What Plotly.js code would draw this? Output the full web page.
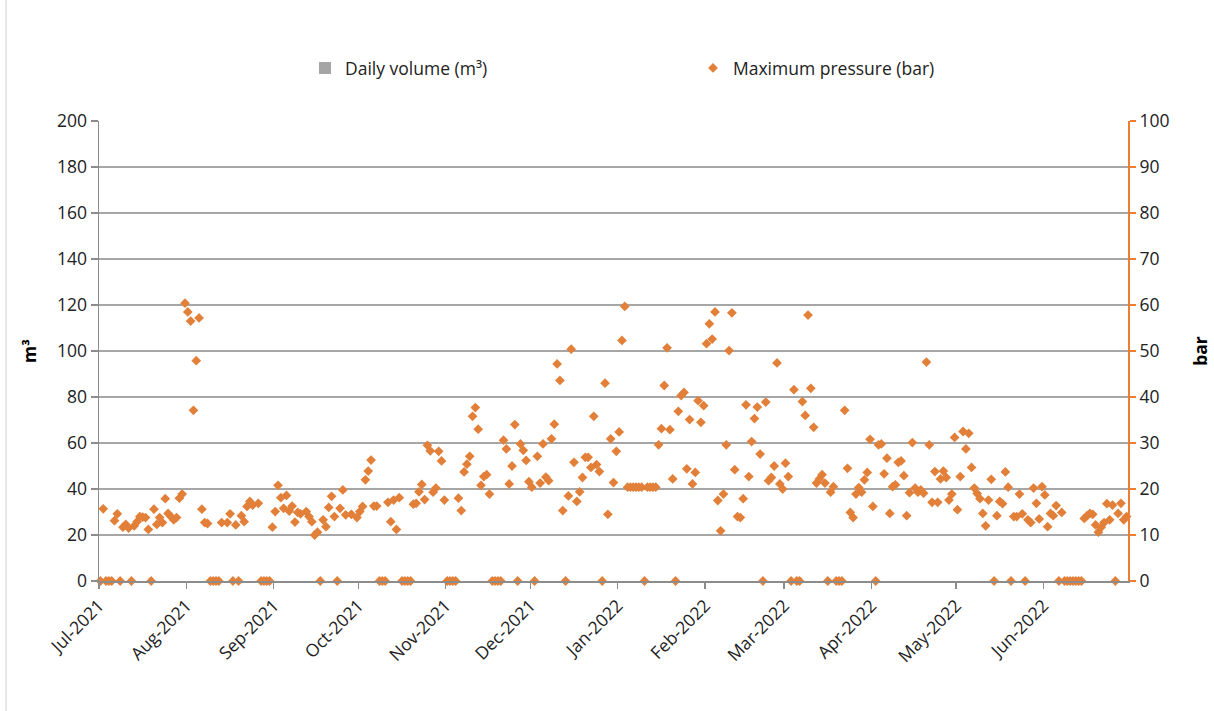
<!DOCTYPE html>
<html><head><meta charset="utf-8">
<script src="https://cdn.plot.ly/plotly-3.0.1.min.js"></script>
<style>html,body{margin:0;padding:0;background:#fff}#chart{width:1214px;height:711px}</style>
</head><body><div id="chart"></div>
<script>
// Daily maximum pressure (bar), one reading per day
const pressureDates = [
'2021-07-01','2021-07-02','2021-07-03','2021-07-04','2021-07-05','2021-07-06','2021-07-07','2021-07-08','2021-07-09','2021-07-10',
'2021-07-11','2021-07-12','2021-07-13','2021-07-14','2021-07-15','2021-07-16','2021-07-17','2021-07-18','2021-07-19','2021-07-20',
'2021-07-21','2021-07-22','2021-07-23','2021-07-24','2021-07-25','2021-07-26','2021-07-27','2021-07-28','2021-07-29','2021-07-30','2021-07-31',
'2021-08-01','2021-08-02','2021-08-03','2021-08-04','2021-08-05','2021-08-06','2021-08-07','2021-08-08','2021-08-09','2021-08-10',
'2021-08-11','2021-08-12','2021-08-13','2021-08-15','2021-08-16','2021-08-17','2021-08-18','2021-08-19','2021-08-20',
'2021-08-21','2021-08-22','2021-08-23','2021-08-24','2021-08-26','2021-08-27','2021-08-28','2021-08-29','2021-08-30','2021-08-31',
'2021-09-01','2021-09-02','2021-09-03','2021-09-04','2021-09-05','2021-09-06','2021-09-07','2021-09-08','2021-09-09','2021-09-10',
'2021-09-12','2021-09-13','2021-09-14','2021-09-15','2021-09-16','2021-09-17','2021-09-18','2021-09-19','2021-09-20',
'2021-09-21','2021-09-22','2021-09-23','2021-09-24','2021-09-25','2021-09-26','2021-09-28','2021-09-30',
'2021-10-01','2021-10-02','2021-10-03','2021-10-04','2021-10-05','2021-10-06','2021-10-07','2021-10-08','2021-10-09','2021-10-10',
'2021-10-11','2021-10-12','2021-10-13','2021-10-14','2021-10-15','2021-10-16','2021-10-17','2021-10-18','2021-10-19','2021-10-20',
'2021-10-21','2021-10-22','2021-10-23','2021-10-24','2021-10-25','2021-10-26','2021-10-27','2021-10-28','2021-10-29','2021-10-30','2021-10-31',
'2021-11-01','2021-11-02','2021-11-03','2021-11-04','2021-11-05','2021-11-06','2021-11-07','2021-11-08','2021-11-09','2021-11-10',
'2021-11-11','2021-11-12','2021-11-13','2021-11-14','2021-11-15','2021-11-16','2021-11-17','2021-11-18','2021-11-19','2021-11-20',
'2021-11-21','2021-11-22','2021-11-23','2021-11-24','2021-11-25','2021-11-26','2021-11-27','2021-11-28','2021-11-29','2021-11-30',
'2021-12-01','2021-12-02','2021-12-03','2021-12-04','2021-12-05','2021-12-06','2021-12-07','2021-12-08','2021-12-09','2021-12-10',
'2021-12-11','2021-12-12','2021-12-13','2021-12-14','2021-12-15','2021-12-16','2021-12-17','2021-12-18','2021-12-19','2021-12-20',
'2021-12-21','2021-12-22','2021-12-23','2021-12-24','2021-12-25','2021-12-26','2021-12-27','2021-12-28','2021-12-29','2021-12-30','2021-12-31',
'2022-01-01','2022-01-02','2022-01-03','2022-01-04','2022-01-05','2022-01-06','2022-01-07','2022-01-08','2022-01-09','2022-01-10',
'2022-01-11','2022-01-12','2022-01-13','2022-01-14','2022-01-15','2022-01-16','2022-01-17','2022-01-18','2022-01-19','2022-01-20',
'2022-01-21','2022-01-22','2022-01-23','2022-01-24','2022-01-25','2022-01-26','2022-01-27','2022-01-28','2022-01-29','2022-01-30','2022-01-31',
'2022-02-01','2022-02-02','2022-02-03','2022-02-04','2022-02-05','2022-02-06','2022-02-07','2022-02-08','2022-02-09','2022-02-10',
'2022-02-11','2022-02-12','2022-02-13','2022-02-14','2022-02-15','2022-02-16','2022-02-17','2022-02-18','2022-02-19','2022-02-20',
'2022-02-21','2022-02-22','2022-02-23','2022-02-24','2022-02-25','2022-02-26','2022-02-27','2022-02-28',
'2022-03-01','2022-03-02','2022-03-03','2022-03-04','2022-03-05','2022-03-06','2022-03-07','2022-03-08','2022-03-09','2022-03-10',
'2022-03-11','2022-03-12','2022-03-13','2022-03-14','2022-03-15','2022-03-16','2022-03-17','2022-03-18','2022-03-19','2022-03-20',
'2022-03-21','2022-03-22','2022-03-23','2022-03-24','2022-03-25','2022-03-26','2022-03-27','2022-03-28','2022-03-29','2022-03-30','2022-03-31',
'2022-04-01','2022-04-02','2022-04-03','2022-04-04','2022-04-05','2022-04-06','2022-04-07','2022-04-08','2022-04-09','2022-04-10',
'2022-04-11','2022-04-12','2022-04-13','2022-04-14','2022-04-15','2022-04-16','2022-04-17','2022-04-18','2022-04-19','2022-04-20',
'2022-04-21','2022-04-22','2022-04-23','2022-04-24','2022-04-25','2022-04-26','2022-04-27','2022-04-28','2022-04-29','2022-04-30',
'2022-05-01','2022-05-02','2022-05-03','2022-05-04','2022-05-05','2022-05-06','2022-05-07','2022-05-08','2022-05-09','2022-05-10',
'2022-05-11','2022-05-12','2022-05-13','2022-05-14','2022-05-15','2022-05-16','2022-05-17','2022-05-18','2022-05-19','2022-05-20',
'2022-05-21','2022-05-22','2022-05-23','2022-05-24','2022-05-25','2022-05-26','2022-05-27','2022-05-28','2022-05-29','2022-05-30','2022-05-31',
'2022-06-01','2022-06-02','2022-06-03','2022-06-04','2022-06-05','2022-06-06','2022-06-07','2022-06-08','2022-06-09','2022-06-10',
'2022-06-11','2022-06-12','2022-06-13','2022-06-14','2022-06-15','2022-06-16','2022-06-17','2022-06-18','2022-06-19','2022-06-20',
'2022-06-21','2022-06-22','2022-06-23','2022-06-24','2022-06-25','2022-06-26','2022-06-27','2022-06-28','2022-06-29','2022-06-30'
];
const pressureBar = [
0,15.7,0,0,0,13.1,14.6,0,11.7,12.3,
11.5,0,12.0,12.9,14.0,13.9,13.8,11.2,0,15.6,
12.3,13.8,12.7,17.9,14.7,14.0,13.3,13.8,18.0,18.9,60.4,
58.5,56.5,37.1,47.9,57.2,15.6,12.7,12.5,0,0,
0,0,12.7,12.7,14.6,0,12.2,0,14.2,
12.9,16.2,17.3,16.5,16.9,0,0,0,0,11.7,
15.1,20.8,18.1,15.8,18.6,15.2,16.3,12.8,14.9,14.6,
15.1,14.0,12.9,10.0,10.6,0,13.3,11.8,16.0,
18.4,14.0,0,15.8,19.8,14.4,14.5,13.8,
15.1,16.2,22.0,23.9,26.3,16.3,16.3,0,0,0,
17.1,12.9,17.6,11.2,18.1,0,0,0,0,16.7,
16.9,19.4,21.0,17.7,29.5,28.3,19.3,20.2,28.2,26.1,17.6,
0,0,0,0,18.0,15.3,23.7,25.4,27.1,35.8,
37.7,33.0,20.8,22.7,23.1,18.9,0,0,0,0,
30.6,28.7,21.1,25.0,34.0,0,29.8,28.4,26.2,21.6,
20.4,0,27.1,21.3,29.8,22.6,21.8,30.9,34.1,47.2,
43.6,15.3,0,18.5,50.4,25.8,17.3,19.4,22.5,26.9,
26.9,24.7,35.8,25.3,23.8,0,43.0,14.5,30.9,21.4,28.2,
32.4,52.3,59.7,20.4,20.4,20.4,20.4,20.4,20.4,0,
20.4,20.4,20.4,20.4,29.6,33.1,42.5,50.7,32.9,22.2,
0,36.9,40.3,41.0,24.4,35.1,21.1,23.6,39.2,34.5,38.1,
51.6,55.9,52.6,58.5,17.5,10.9,18.9,29.6,50.1,58.3,
24.2,14.0,13.8,17.9,38.3,22.7,30.3,35.3,37.8,27.6,
0,38.9,21.8,22.5,25.0,47.4,21.1,20.0,
25.6,22.7,0,41.6,0,0,39.0,36.0,57.8,41.9,
33.4,21.3,22.2,23.1,21.3,0,19.3,20.5,0,0,
0,37.1,24.5,14.9,13.8,18.9,20.3,19.3,22.0,23.6,30.8,
16.2,0,29.6,29.8,23.3,26.7,14.7,20.5,20.9,25.8,
26.1,22.9,14.2,19.2,30.1,20.2,19.3,19.8,19.1,47.6,
29.6,17.1,23.8,17.1,22.2,23.9,22.5,17.6,18.9,31.2,
15.5,22.7,32.5,28.7,32.1,24.7,20.2,19.0,17.9,14.7,
12.0,17.6,22.1,0,14.2,17.3,16.8,23.7,20.4,0,
14.0,14.0,18.9,14.6,0,13.3,12.7,20.2,16.9,13.5,20.5,
18.7,11.8,14.7,14.2,16.4,0,14.9,0,0,0,
0,0,0,0,13.6,14.2,14.7,14.5,12.2,10.6,
11.7,12.7,16.8,13.3,16.5,0,14.7,16.9,13.3,14.0
];
// Daily volume (m³): no bar rises above zero in the chart
const volumeDates = ['2021-07-01'];
const volumeM3 = [0];
const tickMonths = ['2021-07-01','2021-08-01','2021-09-01','2021-10-01','2021-11-01','2021-12-01',
                    '2022-01-01','2022-02-01','2022-03-01','2022-04-01','2022-05-01','2022-06-01'];
const tickLabels = ['Jul-2021','Aug-2021','Sep-2021','Oct-2021','Nov-2021','Dec-2021',
                    'Jan-2022','Feb-2022','Mar-2022','Apr-2022','May-2022','Jun-2022'];

const ORANGE = '#E2803A';
const GREY = '#8c8c8c';
const TXT = '#222';
const FONT = 'Open Sans, Liberation Sans, sans-serif';
const FS = 17.5;

const traces = [
  {type:'bar', name:'Daily volume (m³)', x: volumeDates, y: volumeM3,
   marker:{color:'#A5A5A5', line:{width:0}}, yaxis:'y'},
  {type:'scatter', mode:'markers', name:'Maximum pressure (bar)',
   x: pressureDates.map(d => d + 'T12:00:00'), y: pressureBar, yaxis:'y2',
   cliponaxis:false,
   marker:{symbol:'diamond', size:7.5, color:ORANGE, line:{width:0}}}
];

const layout = {
  width:1214, height:711,
  margin:{l:99, r:86, t:121, b:130},
  paper_bgcolor:'#fff', plot_bgcolor:'#fff',
  font:{family:FONT, size:FS, color:TXT},
  showlegend:true,
  legend:{orientation:'h', x:(305-99)/1029, y:1.115, xanchor:'left', yanchor:'middle',
          entrywidth:343, entrywidthmode:'pixels', font:{size:FS, color:TXT},
          bgcolor:'rgba(0,0,0,0)'},
  xaxis:{type:'date', range:['2021-07-01','2022-07-01'], tickvals:tickMonths, ticktext:tickLabels,
         tickangle:-45, ticks:'outside', ticklen:6, tickcolor:GREY, tickwidth:1.3,
         showline:true, linecolor:GREY, linewidth:1.5, showgrid:false, zeroline:false,
         tickfont:{size:FS, color:TXT}},
  yaxis:{range:[0,200], dtick:20, tick0:0, ticks:'outside', ticklen:7, tickcolor:GREY, tickwidth:1.3,
         showline:true, linecolor:GREY, linewidth:1.5, gridcolor:'#a6a6a6', gridwidth:1.4,
         zeroline:false, tickfont:{size:FS, color:TXT},
         title:{text:'<b>m³</b>', standoff:16, font:{size:FS, color:'#000'}}},
  yaxis2:{overlaying:'y', side:'right', range:[0,100], dtick:10, tick0:0,
          showgrid:false, showline:true, linecolor:'#ED7D31', linewidth:2,
          ticks:'outside', ticklen:6, tickcolor:'#ED7D31', tickwidth:1.5, zeroline:false,
          tickfont:{size:FS, color:TXT},
          title:{text:'<b>bar</b>', standoff:26, font:{size:FS, color:'#000'}}},
  shapes:[
    {type:'line', xref:'paper', yref:'paper', x0:-93/1029, x1:-93/1029, y0:-130/460, y1:(711-121)/460,
     line:{color:'#d0d0d0', width:1}}
  ]
};

Plotly.newPlot('chart', traces, layout, {displayModeBar:false, staticPlot:true});
</script>
</body></html>
